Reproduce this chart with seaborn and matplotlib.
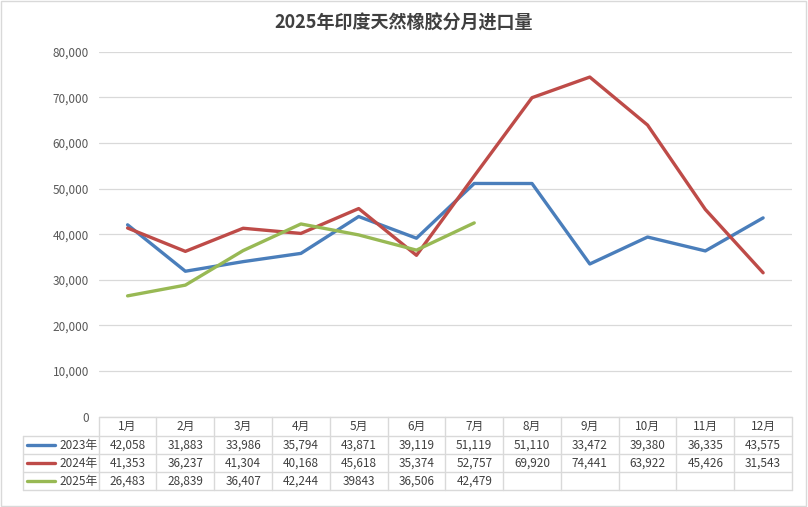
import numpy as np
import pandas as pd
import seaborn as sns
import matplotlib.pyplot as plt
from matplotlib.lines import Line2D
from matplotlib.patches import Rectangle
from matplotlib.ticker import FuncFormatter

# monthly import volume (tonnes)
months = ["1月", "2月", "3月", "4月", "5月", "6月", "7月", "8月", "9月", "10月", "11月", "12月"]
years = ["2023年", "2024年", "2025年"]
v2023 = [42058, 31883, 33986, 35794, 43871, 39119, 51119, 51110, 33472, 39380, 36335, 43575]
v2024 = [41353, 36237, 41304, 40168, 45618, 35374, 52757, 69920, 74441, 63922, 45426, 31543]
v2025 = [26483, 28839, 36407, 42244, 39843, 36506, 42479]
colors = ["#4A7EBB", "#BE4B48", "#98B954"]

sns.set_theme(style="white")
plt.rcParams['font.family'] = ['Noto Sans CJK SC', 'DejaVu Sans']

W, H = 808, 507
fig = plt.figure(figsize=(W / 100, H / 100), dpi=100)

def fx(px):
    return px / W

def fy(py):
    return 1 - py / H

# plot area in pixels
left, right, top, bottom = 98.7, 792, 51.7, 416.7
ax = fig.add_axes([fx(left), fy(bottom), fx(right - left), (bottom - top) / H])

for vals, c in zip([v2023, v2024, v2025], colors):
    sns.lineplot(x=np.arange(len(vals)), y=vals, color=c, lw=2.4, ax=ax, legend=False)

ax.set_xlim(-0.5, 11.5)
ax.set_ylim(0, 80000)
ax.set_yticks(range(0, 80001, 10000))
ax.yaxis.set_major_formatter(FuncFormatter(lambda v, p: "0" if v == 0 else f"{int(v):,}"))
ax.tick_params(axis="y", labelsize=8.5, colors="#595959", length=0, pad=7)
ax.set_xticks([])
ax.grid(axis="y", color="#D9D9D9", lw=0.9)
for s in ax.spines.values():
    s.set_visible(False)
ax.set_xlabel("")
ax.set_ylabel("")

fig.text(0.5, fy(23), "2025年印度天然橡胶分月进口量", ha="center", va="center",
         fontsize=13, fontweight="bold", color="#404040")

# outer border
fig.add_artist(Rectangle((0.001, 0.001), 0.997, 0.997, transform=fig.transFigure,
                         fill=False, edgecolor="#D9D9D9", lw=1))

# data table
gc = "#D9D9D9"
cw = (right - left) / 12
rows_y = [417, 436, 454.3, 472.3, 490]
tab_left = 23

def hline(x0, x1, y):
    fig.add_artist(Line2D([fx(x0), fx(x1)], [fy(y), fy(y)], color=gc, lw=1, transform=fig.transFigure))

def vline(x, y0, y1):
    fig.add_artist(Line2D([fx(x), fx(x)], [fy(y0), fy(y1)], color=gc, lw=1, transform=fig.transFigure))

hline(left, right, rows_y[0])
for y in rows_y[1:]:
    hline(tab_left, right, y)
vline(tab_left, rows_y[1], rows_y[-1])
for k in range(13):
    vline(left + k * cw, rows_y[0], rows_y[-1])

txt = dict(ha="center", va="center", fontsize=8.5, color="#404040")
for i, m in enumerate(months):
    fig.text(fx(left + (i + 0.5) * cw), fy((rows_y[0] + rows_y[1]) / 2), m, **txt)

cells = [[f"{v:,}" for v in v2023], [f"{v:,}" for v in v2024], [f"{v:,}" for v in v2025]]
cells[2][4] = "39843"  # unformatted in the source sheet
for r, (lab, row, c) in enumerate(zip(years, cells, colors)):
    yc = (rows_y[r + 1] + rows_y[r + 2]) / 2
    fig.add_artist(Line2D([fx(27), fx(55)], [fy(yc), fy(yc)], color=c, lw=2.4,
                          solid_capstyle="round", transform=fig.transFigure))
    fig.text(fx(59), fy(yc), lab, ha="left", va="center", fontsize=8.5, color="#404040")
    for i, s in enumerate(row):
        fig.text(fx(left + (i + 0.5) * cw), fy(yc), s, **txt)

fig.savefig("out.png", dpi=100)
